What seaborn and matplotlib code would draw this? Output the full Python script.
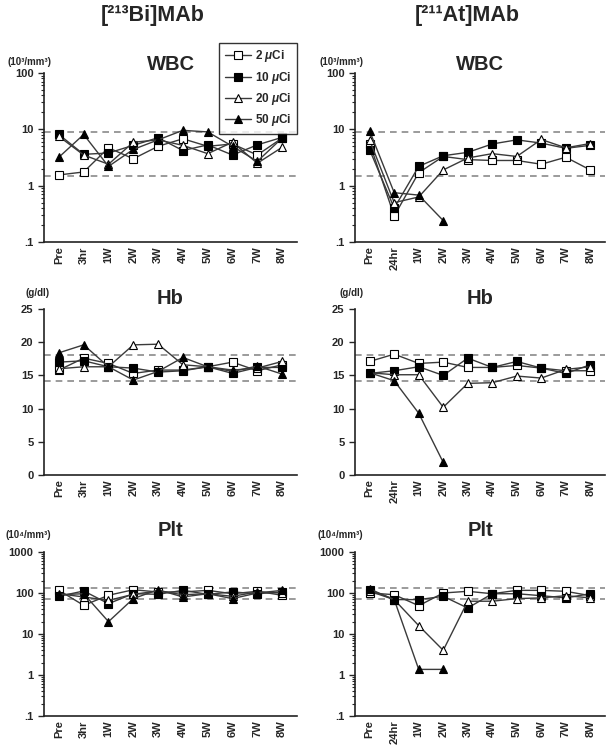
import matplotlib
matplotlib.use('Agg')
import matplotlib.pyplot as plt
import numpy as np
import pandas as pd
import seaborn as sns

nan = np.nan

# time points
times_bi = ['Pre', '3hr', '1W', '2W', '3W', '4W', '5W', '6W', '7W', '8W']
times_at = ['Pre', '24hr', '1W', '2W', '3W', '4W', '5W', '6W', '7W', '8W']
doses = ['2 $\\mu$Ci', '10 $\\mu$Ci', '20 $\\mu$Ci', '50 $\\mu$Ci']

# [213Bi]MAb
wbc_bi = [[1.55, 1.75, 4.7, 3.0, 5.0, 6.8, 5.0, 5.5, 3.5, 7.0],
          [8.1, 3.6, 3.8, 5.2, 7.1, 4.2, 5.3, 3.5, 5.3, 7.2],
          [7.5, 3.5, 2.4, 5.9, 6.5, 5.2, 3.7, 5.9, 2.5, 4.8],
          [3.2, 8.1, 2.2, 4.4, 6.5, 9.6, 9.0, 5.0, 2.7, 7.0]]
hb_bi = [[15.8, 17.6, 16.8, 15.3, 15.8, 15.8, 16.3, 17.0, 15.7, 16.6],
         [17.0, 17.2, 16.3, 16.1, 15.5, 15.7, 16.3, 15.3, 16.2, 16.2],
         [16.0, 16.3, 16.3, 19.6, 19.7, 16.6, 16.3, 15.8, 16.1, 17.1],
         [18.4, 19.6, 16.3, 14.3, 15.6, 17.7, 16.3, 15.6, 16.4, 15.2]]
plt_bi = [[116, 50, 88, 120, 106, 106, 116, 96, 110, 88],
          [83, 112, 55, 96, 93, 116, 93, 106, 96, 106],
          [96, 80, 66, 93, 112, 91, 96, 83, 106, 100],
          [91, 96, 20, 73, 120, 80, 96, 73, 100, 116]]

# [211At]MAb
wbc_at = [[5.6, 0.29, 1.7, 3.3, 2.9, 2.8, 2.8, 2.4, 3.2, 1.9],
          [4.3, 0.40, 2.2, 3.4, 3.9, 5.5, 6.5, 5.7, 4.6, 5.2],
          [6.4, 0.5, 0.63, 1.9, 3.1, 3.7, 3.3, 6.6, 4.7, 5.6],
          [9.3, 0.75, 0.68, 0.24, nan, nan, nan, nan, nan, nan]]
hb_at = [[17.1, 18.2, 16.8, 17.0, 16.2, 16.2, 16.5, 16.1, 15.7, 15.7],
         [15.3, 15.7, 16.3, 15.0, 17.6, 16.2, 17.1, 16.1, 15.3, 16.6],
         [15.4, 15.1, 15.1, 10.2, 13.8, 13.9, 14.9, 14.6, 15.9, 16.3],
         [15.4, 14.2, 9.3, 1.9, nan, nan, nan, nan, nan, nan]]
plt_at = [[100, 91, 49, 100, 110, 96, 116, 116, 110, 86],
          [120, 69, 69, 83, 43, 96, 96, 86, 76, 96],
          [110, 69, 16, 4.0, 63, 63, 73, 76, 86, 76],
          [125, 69, 1.37, 1.37, nan, nan, nan, nan, nan, nan]]

# normal ranges (dashed lines)
wbc_ref = [1.5, 9.0]
hb_ref = [14.2, 18.1]
plt_ref = [72, 130]

sns.set_style('ticks')
plt.rcParams['font.family'] = ['Liberation Sans', 'DejaVu Sans']
plt.rcParams['font.weight'] = 'bold'
plt.rcParams['mathtext.fontset'] = 'custom'
plt.rcParams['mathtext.rm'] = 'Liberation Sans:bold'
plt.rcParams['mathtext.it'] = 'Liberation Sans:italic:bold'

W, H = 608, 745
fig = plt.figure(figsize=(W / 100, H / 100), dpi=100)


def rect(x0, x1, y0, y1):
    return [x0 / W, 1 - y1 / H, (x1 - x0) / W, (y1 - y0) / H]


cols = [(44, 297), (355, 605)]
rows = [(73, 242), (309, 475), (552, 716)]
markers = [('s', 'white'), ('s', 'black'), ('^', 'white'), ('^', 'black')]

panels = [
    [(wbc_bi, times_bi), (wbc_at, times_at)],
    [(hb_bi, times_bi), (hb_at, times_at)],
    [(plt_bi, times_bi), (plt_at, times_at)],
]
names = ['WBC', 'Hb', 'Plt']
units = ['(10³/mm³)', '(g/dl)', '(10⁴/mm³)']
refs = [wbc_ref, hb_ref, plt_ref]
title_y = [65, 299, 530]
unit_pos = [[(29, 62), (341, 62)], [(38, 293), (352, 293)], [(28, 535), (340, 535)]]

for r in range(3):
    for c in range(2):
        data, times = panels[r][c]
        ax = fig.add_axes(rect(cols[c][0], cols[c][1], rows[r][0], rows[r][1]))
        for i, series in enumerate(data):
            df = pd.DataFrame({'time': times, 'value': series}).dropna()
            m, fc = markers[i]
            sns.lineplot(data=df, x='time', y='value', ax=ax, marker=m,
                         markersize=5.5 if m == 's' else 6, markerfacecolor=fc,
                         markeredgecolor='black', markeredgewidth=0.8,
                         color='#3a3a3a', linewidth=1.0, label=doses[i], sort=False)
        for v in refs[r]:
            ax.axhline(v, color='#8a8a8a', linestyle=(0, (4, 3)), linewidth=1.2, zorder=0)
        ax.set_xlim(-0.6, 9.6)
        if r == 1:
            ax.set_ylim(0, 25)
            ax.set_yticks([0, 5, 10, 15, 20, 25])
            ax.set_yticklabels(['0', '5', '10', '15', '20', '25'])
        else:
            ax.set_yscale('log')
            if r == 0:
                ax.set_ylim(0.1, 100)
                ax.set_yticks([0.1, 1, 10, 100])
                ax.set_yticklabels(['.1', '1', '10', '100'])
            else:
                ax.set_ylim(0.1, 1000)
                ax.set_yticks([0.1, 1, 10, 100, 1000])
                ax.set_yticklabels(['.1', '1', '10', '100', '1000'])
        ax.set_xticks(range(len(times)))
        ax.set_xticklabels(times, rotation=90, fontsize=8, fontweight='bold')
        ax.tick_params(axis='x', length=0, pad=3)
        ax.tick_params(axis='y', which='major', length=4, width=1, labelsize=8)
        ax.tick_params(axis='y', which='minor', length=2, width=0.8)
        ax.set_xlabel('')
        ax.set_ylabel('')
        for s in ['top', 'right']:
            ax.spines[s].set_visible(False)
        for s in ['left', 'bottom']:
            ax.spines[s].set_linewidth(1.2)
            ax.spines[s].set_color('#222222')
        fig.text((cols[c][0] + cols[c][1]) / 2 / W, 1 - title_y[r] / H, names[r],
                 ha='center', va='center', fontsize=14.5, fontweight='bold')
        ux, uy = unit_pos[r][c]
        fig.text(ux / W, 1 - uy / H, units[r], ha='center', va='center',
                 fontsize=7, fontweight='bold')
        if r == 0 and c == 0:
            leg = ax.legend(loc='upper right', bbox_to_anchor=(1.0, 1.18),
                            borderaxespad=0, fontsize=8.5, frameon=True, fancybox=False,
                            handlelength=2.2, handletextpad=0.3,
                            borderpad=0.5, labelspacing=0.45)
            leg.get_frame().set_edgecolor('black')
            leg.get_frame().set_linewidth(1.0)
            for t in leg.get_texts():
                t.set_fontweight('bold')
        else:
            if ax.get_legend() is not None:
                ax.get_legend().remove()

fig.text(153 / W, 1 - 16 / H, '[²¹³Bi]MAb', ha='center', va='center',
         fontsize=15.5, fontweight='bold')
fig.text(467 / W, 1 - 16 / H, '[²¹¹At]MAb', ha='center', va='center',
         fontsize=15.5, fontweight='bold')

fig.savefig('out.png', dpi=100)
